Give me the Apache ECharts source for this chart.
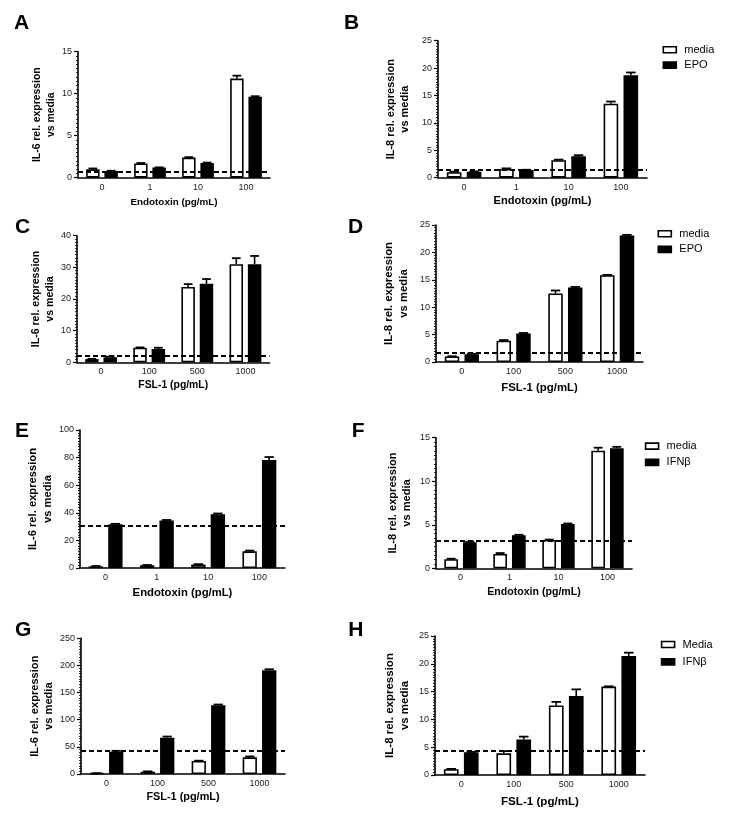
<!DOCTYPE html>
<html><head><meta charset="utf-8">
<script src="https://cdn.jsdelivr.net/npm/echarts@6/dist/echarts.min.js"></script>
<style>html,body{margin:0;padding:0;background:#fff}#c{width:739px;height:830px}</style>
</head><body><div id="c"></div>
<script>
// ---------- categories ----------
const endotoxinCats = ['0', '1', '10', '100'];
const fslCats = ['0', '100', '500', '1000'];

// ---------- A: IL-6, Endotoxin, media vs EPO ----------
const aMedia = [1.0, 1.7, 2.4, 11.8];
const aMediaErr = [0.1, 0.05, 0.05, 0.35];
const aEpo = [0.8, 1.2, 1.75, 9.65];
const aEpoErr = [0.03, 0.03, 0.05, 0.05];
const aBaseline = 0.75;

// ---------- B: IL-8, Endotoxin, media vs EPO ----------
const bMedia = [1.0, 1.6, 3.2, 13.5];
const bMediaErr = [0.1, 0.1, 0.1, 0.4];
const bEpo = [1.1, 1.4, 3.9, 18.7];
const bEpoErr = [0.05, 0.05, 0.2, 0.5];
const bBaseline = 1.4;

// ---------- C: IL-6, FSL-1, media vs EPO ----------
const cMedia = [1.0, 4.6, 23.8, 31.0];
const cMediaErr = [0.1, 0.1, 0.9, 1.9];
const cEpo = [1.6, 4.2, 24.8, 31.0];
const cEpoErr = [0.2, 0.4, 1.5, 2.6];
const cBaseline = 2.1;

// ---------- D: IL-8, FSL-1, media vs EPO ----------
const dMedia = [1.0, 3.9, 12.5, 15.85];
const dMediaErr = [0.05, 0.1, 0.55, 0.05];
const dEpo = [1.4, 5.2, 13.6, 23.1];
const dEpoErr = [0.1, 0.1, 0.1, 0.1];
const dBaseline = 1.75;

// ---------- E: IL-6, Endotoxin, media vs IFNb ----------
const eMedia = [1.2, 2.0, 2.5, 12.1];
const eMediaErr = [0.2, 0.2, 0.3, 0.5];
const eIfn = [31.7, 34.4, 39.0, 78.2];
const eIfnErr = [0.3, 0.4, 0.5, 2.2];
const eBaseline = 30.8;

// ---------- F: IL-8, Endotoxin, media vs IFNb ----------
const fMedia = [1.05, 1.65, 3.25, 13.5];
const fMediaErr = [0.05, 0.1, 0.05, 0.35];
const fIfn = [3.0, 3.8, 5.1, 13.8];
const fIfnErr = [0.05, 0.05, 0.05, 0.15];
const fBaseline = 3.2;

// ---------- G: IL-6, FSL-1, media vs IFNb ----------
const gMedia = [1.2, 4.3, 24.0, 30.8];
const gMediaErr = [0.3, 0.5, 0.5, 1.5];
const gIfn = [41.2, 67.0, 126.5, 191.0];
const gIfnErr = [1.5, 2.0, 1.5, 2.0];
const gBaseline = 42.4;

// ---------- H: IL-8, FSL-1, Media vs IFNb ----------
const hMedia = [1.05, 3.9, 12.5, 15.9];
const hMediaErr = [0.05, 0.4, 0.65, 0.05];
const hIfn = [4.1, 6.4, 14.2, 21.4];
const hIfnErr = [0.05, 0.5, 1.2, 0.6];
const hBaseline = 4.3;

// ---------- axis titles ----------
const il6Title = 'IL-6 rel. expression\nvs media';
const il8Title = 'IL-8 rel. expression\nvs media';
const endoTitle = 'Endotoxin (pg/mL)';
const fslTitle = 'FSL-1 (pg/mL)';

const FONT = '"Liberation Sans", Arial, Helvetica, sans-serif';
const BAR_FRAC = 0.28, GAP_FRAC = 0.36;

const panels = [
  {id:'A', grid:{left:78, top:51.7, width:192, height:126}, cats:endotoxinCats, max:15, interval:5,
   yName:il6Title, xName:endoTitle, names:['media','EPO'], s1:aMedia, e1:aMediaErr, s2:aEpo, e2:aEpoErr, base:aBaseline,
   yGap:16, xGap:20, yFs:10.4, xFs:9.9, letter:[14, 13]},
  {id:'B', grid:{left:438, top:40.7, width:209, height:137}, cats:endotoxinCats, max:25, interval:5,
   yName:il8Title, xName:endoTitle, names:['media','EPO'], s1:bMedia, e1:bMediaErr, s2:bEpo, e2:bEpoErr, base:bBaseline,
   yGap:26, xGap:18, yFs:11, xFs:11.1, letter:[344, 13], legend:[662.5, 42.8, 1.3]},
  {id:'C', grid:{left:77, top:235.7, width:192.5, height:126.6}, cats:fslCats, max:40, interval:10,
   yName:il6Title, xName:fslTitle, names:['media','EPO'], s1:cMedia, e1:cMediaErr, s2:cEpo, e2:cEpoErr, base:cBaseline,
   yGap:14, xGap:18, yFs:10.6, xFs:10.4, letter:[15, 216.7]},
  {id:'D', grid:{left:436, top:225, width:207, height:137}, cats:fslCats, max:25, interval:5,
   yName:il8Title, xName:fslTitle, names:['media','EPO'], s1:dMedia, e1:dMediaErr, s2:dEpo, e2:dEpoErr, base:dBaseline,
   yGap:25, xGap:20, yFs:11.3, xFs:11.4, letter:[348, 216.7], legend:[657.5, 226.8, 1.6]},
  {id:'E', grid:{left:80, top:430, width:205, height:138}, cats:endotoxinCats, max:100, interval:20,
   yName:il6Title, xName:endoTitle, names:['media','IFNβ'], s1:eMedia, e1:eMediaErr, s2:eIfn, e2:eIfnErr, base:eBaseline,
   yGap:18, xGap:19, yFs:11.2, xFs:11.3, letter:[15, 421]},
  {id:'F', grid:{left:436, top:437.7, width:196, height:130.6}, cats:endotoxinCats, max:15, interval:5,
   yName:il8Title, xName:endoTitle, names:['media','IFNβ'], s1:fMedia, e1:fMediaErr, s2:fIfn, e2:fIfnErr, base:fBaseline,
   yGap:22, xGap:18, yFs:11.1, xFs:10.6, letter:[351.7, 421], legend:[644.8, 439.1, 2.3]},
  {id:'G', grid:{left:81, top:638.3, width:204, height:135.7}, cats:fslCats, max:250, interval:50,
   yName:il6Title, xName:fslTitle, names:['media','IFNβ'], s1:gMedia, e1:gMediaErr, s2:gIfn, e2:gIfnErr, base:gBaseline,
   yGap:21, xGap:17, yFs:11.1, xFs:10.9, letter:[15, 619.3]},
  {id:'H', grid:{left:435, top:636, width:210, height:139}, cats:fslCats, max:25, interval:5,
   yName:il8Title, xName:fslTitle, names:['Media','IFNβ'], s1:hMedia, e1:hMediaErr, s2:hIfn, e2:hIfnErr, base:hBaseline,
   yGap:23, xGap:21, yFs:11.5, xFs:11.6, letter:[348.3, 619.3], legend:[660.8, 637.5, 3.4]}
];

function renderErr(params, api) {
  const k = api.value(0), v = api.value(1), e = api.value(2), side = api.value(3);
  const band = api.size([1, 0])[0];
  const bw = band * BAR_FRAC;
  const off = side * bw * (1 + GAP_FRAC) / 2;
  const p0 = api.coord([k, v]);
  const p1 = api.coord([k, v + e]);
  const x = p0[0] + off;
  const cap = bw * 0.65;
  return {type:'group', children:[
    {type:'line', shape:{x1:x, y1:p0[1], x2:x, y2:p1[1]}, style:{stroke:'#000', lineWidth:1.6}},
    {type:'line', shape:{x1:x - cap/2, y1:p1[1], x2:x + cap/2, y2:p1[1]}, style:{stroke:'#000', lineWidth:1.8}}
  ]};
}

const option = {
  animation:false,
  backgroundColor:'#fff',
  title:[], grid:[], xAxis:[], yAxis:[], series:[], legend:[]
};

panels.forEach((p, i) => {
  option.title.push({text:p.id, left:p.letter[0], top:p.letter[1], padding:0,
    textStyle:{fontSize:21, fontWeight:'bold', fontFamily:FONT, color:'#000'}});
  option.grid.push(Object.assign({containLabel:false, outerBoundsMode:'none'}, p.grid));
  option.xAxis.push({gridIndex:i, type:'category', data:p.cats,
    name:p.xName, nameLocation:'middle', nameGap:p.xGap,
    nameTextStyle:{fontSize:p.xFs, fontWeight:'bold', fontFamily:FONT, color:'#000'},
    axisLine:{show:true, onZero:false, lineStyle:{color:'#000', width:1.6}},
    axisTick:{show:false},
    axisLabel:{fontSize:9, color:'#222', margin:5, fontFamily:FONT},
    splitLine:{show:false}});
  option.yAxis.push({gridIndex:i, type:'value', min:0, max:p.max, interval:p.interval,
    name:p.yName, nameLocation:'middle', nameGap:p.yGap,
    nameTextStyle:{fontSize:p.yFs, fontWeight:'bold', fontFamily:FONT, color:'#000', lineHeight:Math.round(p.yFs*1.3)},
    axisLine:{show:true, lineStyle:{color:'#000', width:1.6}},
    axisTick:{show:true, length:4, lineStyle:{color:'#000', width:1.2}},
    minorTick:{show:true, splitNumber:10, length:2, lineStyle:{color:'#000', width:0.8}},
    axisLabel:{fontSize:9, color:'#222', margin:6, fontFamily:FONT},
    splitLine:{show:false}, minorSplitLine:{show:false}});
  option.series.push({type:'bar', name:p.names[0], xAxisIndex:i, yAxisIndex:i, data:p.s1,
    barWidth:(BAR_FRAC*100)+'%', barGap:(GAP_FRAC*100)+'%',
    itemStyle:{color:'#fff', borderColor:'#000', borderWidth:1.6},
    markLine:{silent:true, symbol:'none', label:{show:false},
      lineStyle:{color:'#000', type:[5, 3], width:1.8}, data:[{yAxis:p.base}]}});
  option.series.push({type:'bar', name:p.names[1], xAxisIndex:i, yAxisIndex:i, data:p.s2,
    barWidth:(BAR_FRAC*100)+'%', barGap:(GAP_FRAC*100)+'%',
    itemStyle:{color:'#000', borderColor:'#000', borderWidth:1.6}});
  const errData = p.s1.map((v, k) => [k, v, p.e1[k], -1]).concat(p.s2.map((v, k) => [k, v, p.e2[k], 1]));
  option.series.push({type:'custom', name:'err'+p.id, xAxisIndex:i, yAxisIndex:i, data:errData,
    encode:{x:0, y:1}, renderItem:renderErr, z:5, silent:true});
  if (p.legend) {
    option.legend.push({left:p.legend[0], top:p.legend[1], orient:'vertical', padding:0,
      itemWidth:13, itemHeight:6, itemGap:p.legend[2], selectedMode:false, icon:'rect',
      textStyle:{fontSize:11, fontFamily:FONT, color:'#000', lineHeight:14, padding:[0,0,0,3]},
      data:[{name:p.names[0], itemStyle:{color:'#fff', borderColor:'#000', borderWidth:1.6}},
            {name:p.names[1], itemStyle:{color:'#000', borderColor:'#000', borderWidth:1.6}}]});
  }
});

const chart = echarts.init(document.getElementById('c'), null, {renderer:'canvas'});
chart.setOption(option);
</script>
</body></html>
